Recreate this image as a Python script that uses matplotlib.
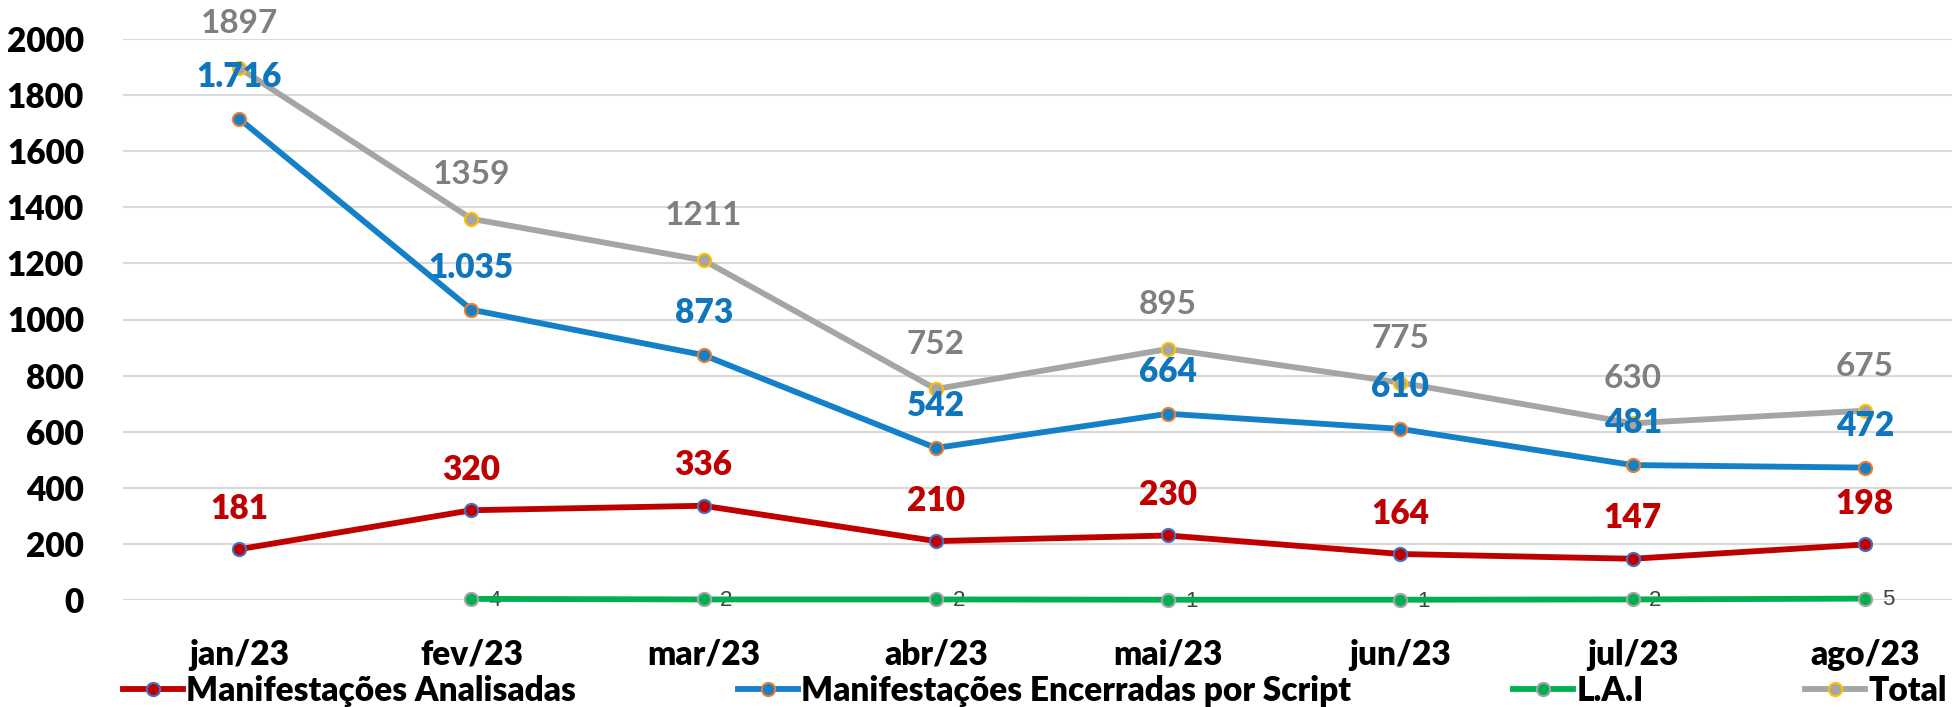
import matplotlib.pyplot as plt

# Data
months = ['jan/23', 'fev/23', 'mar/23', 'abr/23', 'mai/23', 'jun/23', 'jul/23', 'ago/23']
analisadas = [181, 320, 336, 210, 230, 164, 147, 198]
encerradas = [1716, 1035, 873, 542, 664, 610, 481, 472]
lai = [None, 4, 2, 2, 1, 1, 2, 5]
total = [1897, 1359, 1211, 752, 895, 775, 630, 675]
yticks = [0, 200, 400, 600, 800, 1000, 1200, 1400, 1600, 1800, 2000]

plt.rcParams['font.family'] = ['Lato', 'DejaVu Sans']

fig = plt.figure(figsize=(19.52, 7.07), dpi=100)
ax = fig.add_axes([123 / 1952, 107 / 707, 1 - 123 / 1952, 561 / 707])

x = list(range(len(months)))
lai_x = [i for i, v in zip(x, lai) if v is not None]
lai_y = [v for v in lai if v is not None]

lw = 4.2
# Lines
l1, = ax.plot(x, analisadas, color='#C00000', lw=lw, marker='o', ms=9.5,
              mfc='#C00000', mec='#4472C4', mew=1.5, clip_on=False, zorder=4,
              label='Manifestações Analisadas')
l2, = ax.plot(x, encerradas, color='#1380C8', lw=lw, marker='o', ms=9.5,
              mfc='#1380C8', mec='#ED7D31', mew=1.5, clip_on=False, zorder=4,
              label='Manifestações Encerradas por Script')
l3, = ax.plot(lai_x, lai_y, color='#00B050', lw=lw, marker='o', ms=9.5,
              mfc='#00B050', mec='#A5A5A5', mew=1.5, clip_on=False, zorder=4,
              label='L.A.I')
l4, = ax.plot(x, total, color='#A5A5A5', lw=lw, marker='o', ms=9.5,
              mfc='#A5A5A5', mec='#FFC000', mew=1.5, clip_on=False, zorder=3,
              label='Total')

# Data labels
for i, v in enumerate(analisadas):
    ax.annotate(str(v), (i, v), xytext=(0, 29), textcoords='offset points',
                ha='center', va='center', color='#C00000', fontsize=24, fontweight='heavy')
for i, v in enumerate(encerradas):
    txt = f'{v:,}'.replace(',', '.')
    ax.annotate(txt, (i, v), xytext=(0, 30), textcoords='offset points',
                ha='center', va='center', color='#0F75BD', fontsize=24, fontweight='heavy')
for i, v in enumerate(total):
    ax.annotate(str(v), (i, v), xytext=(0, 32), textcoords='offset points',
                ha='center', va='center', color='#7F7F7F', fontsize=24, fontweight='bold')
for i, v in zip(lai_x, lai_y):
    ax.annotate(str(v), (i, v), xytext=(12, -1), textcoords='offset points',
                ha='left', va='center', color='#404040', fontsize=16,
                family=['Liberation Sans', 'DejaVu Sans'])

# Axes styling
ax.set_ylim(0, 2000)
ax.set_xlim(-0.5, 7.375)
ax.set_yticks(yticks)
ax.set_xticks(x)
ax.set_xticklabels(months)
ax.tick_params(axis='both', length=0, labelsize=24)
ax.tick_params(axis='y', pad=28)
ax.tick_params(axis='x', pad=28)
for lab in ax.get_xticklabels() + ax.get_yticklabels():
    lab.set_fontweight('heavy')
ax.grid(axis='y', color='#D9D9D9', lw=1.5)
ax.set_axisbelow(True)
for s in ax.spines.values():
    s.set_visible(False)

# Legend
leg = fig.legend(handles=[l1, l2, l3, l4], loc='lower left', ncol=4, mode='expand',
                 bbox_to_anchor=(123 / 1952, 0.0, 1 - 128 / 1952, 0.04),
                 frameon=False, fontsize=24,
                 handlelength=1.8, handletextpad=0.1, borderaxespad=0, borderpad=0)
for t in leg.get_texts():
    t.set_fontweight('heavy')

fig.savefig('out.png', dpi=100)
